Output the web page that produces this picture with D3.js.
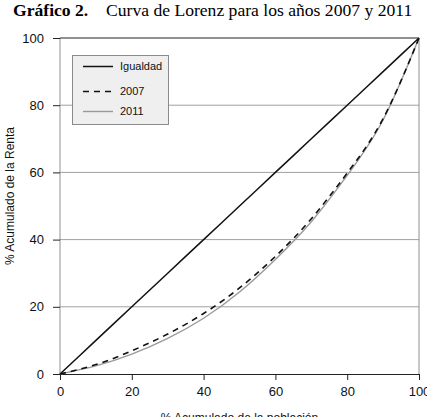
<!DOCTYPE html>
<html>
<head>
<meta charset="utf-8">
<script src="https://cdn.jsdelivr.net/npm/d3@7"></script>
<style>
  body { margin: 0; background: #fff; }
  svg { display: block; }
</style>
</head>
<body>
<div id="chart"></div>
<script>
// datos (deciles de poblacion, % acumulado de renta)
const poblacion = [0, 10, 20, 30, 40, 50, 60, 70, 80, 90, 100];
const igualdad = [0, 10, 20, 30, 40, 50, 60, 70, 80, 90, 100];
const renta2007 = [0, 2.8, 6.9, 11.9, 18.0, 25.6, 35.0, 46.2, 59.8, 76.0, 100];
const renta2011 = [0, 2.4, 5.9, 10.6, 16.6, 24.4, 34.1, 45.3, 59.1, 75.6, 100];
const ticks = [0, 20, 40, 60, 80, 100];
const gridTicks = [20, 40, 60, 80];
const leyenda = ["Igualdad", "2007", "2011"];

const WIDTH = 427, HEIGHT = 417;
const MARGIN = { LEFT: 60, RIGHT: 8, TOP: 38, BOTTOM: 43 };

const svg = d3.select("#chart").append("svg")
    .attr("width", WIDTH)
    .attr("height", HEIGHT);

const x = d3.scaleLinear().domain([0, 100]).range([MARGIN.LEFT, WIDTH - MARGIN.RIGHT]);
const y = d3.scaleLinear().domain([0, 100]).range([HEIGHT - MARGIN.BOTTOM, MARGIN.TOP]);

// titulo
const title = svg.append("text")
    .attr("y", 16)
    .attr("font-family", "'Liberation Serif', 'Times New Roman', serif")
    .attr("font-size", 17.6)
    .attr("fill", "#000");
title.append("tspan").attr("x", 13).attr("font-weight", "bold").text("Gráfico 2.");
title.append("tspan").attr("x", 106).text("Curva de Lorenz para los años 2007 y 2011");

// rejilla
svg.selectAll(".grid")
    .data(gridTicks)
    .enter().append("line")
    .attr("x1", x(0)).attr("x2", x(100))
    .attr("y1", d => y(d)).attr("y2", d => y(d))
    .attr("stroke", "#a0a0a0")
    .attr("stroke-width", 1);

// bordes
svg.append("line")
    .attr("x1", x(0)).attr("x2", x(0))
    .attr("y1", y(0)).attr("y2", y(100))
    .attr("stroke", "#909090").attr("stroke-width", 1);
svg.append("line")
    .attr("x1", x(100)).attr("x2", x(100))
    .attr("y1", y(0)).attr("y2", y(100))
    .attr("stroke", "#909090").attr("stroke-width", 1);
svg.append("line")
    .attr("x1", x(0)).attr("x2", x(100))
    .attr("y1", y(100)).attr("y2", y(100))
    .attr("stroke", "#222").attr("stroke-width", 1);

// ejes
const fontAxis = "'Liberation Sans', Arial, Helvetica, sans-serif";
const gx = svg.append("g")
    .attr("transform", `translate(0, ${y(0)})`)
    .call(d3.axisBottom(x).tickValues(ticks).tickSize(6).tickPadding(7).tickSizeOuter(0));
const gy = svg.append("g")
    .attr("transform", `translate(${x(0)}, 0)`)
    .call(d3.axisLeft(y).tickValues(ticks).tickSize(7).tickPadding(9).tickSizeOuter(0));
gy.select(".domain").remove();
[gx, gy].forEach(g => {
    g.selectAll("text")
        .attr("font-family", fontAxis)
        .attr("font-size", 13)
        .attr("fill", "#111");
    g.selectAll(".tick line").attr("stroke", "#222");
});
gx.select(".domain").attr("stroke", "#222");

// titulos de ejes
svg.append("text")
    .attr("transform", `translate(14, 196) rotate(-90)`)
    .attr("text-anchor", "middle")
    .attr("font-family", fontAxis)
    .attr("font-size", 12)
    .attr("fill", "#111")
    .text("% Acumulado de la Renta");
svg.append("text")
    .attr("x", (x(0) + x(100)) / 2)
    .attr("y", 422)
    .attr("text-anchor", "middle")
    .attr("font-family", fontAxis)
    .attr("font-size", 12)
    .attr("fill", "#111")
    .text("% Acumulado de la población");

// curvas
const line = (vals) => d3.line()
    .x((d, i) => x(poblacion[i]))
    .y(d => y(d))
    .curve(d3.curveNatural)(vals);

svg.append("path")
    .attr("d", line(renta2011))
    .attr("fill", "none")
    .attr("stroke", "#9a9a9a")
    .attr("stroke-width", 1.4);
svg.append("path")
    .attr("d", line(renta2007))
    .attr("fill", "none")
    .attr("stroke", "#111")
    .attr("stroke-width", 1.6)
    .attr("stroke-dasharray", "6,5");
svg.append("path")
    .attr("d", line(igualdad))
    .attr("fill", "none")
    .attr("stroke", "#111")
    .attr("stroke-width", 1.5);

// leyenda
const legend = svg.append("g");
legend.append("rect")
    .attr("x", 72.5).attr("y", 55.5)
    .attr("width", 96).attr("height", 69)
    .attr("fill", "#efefef")
    .attr("stroke", "#8a8a8a")
    .attr("stroke-width", 1);
const estilos = [
    { color: "#111", width: 1.5, dash: null },
    { color: "#111", width: 1.6, dash: "6,5" },
    { color: "#9a9a9a", width: 1.4, dash: null }
];
const filaY = [66.5, 91.5, 111.5];
leyenda.forEach((nombre, i) => {
    legend.append("line")
        .attr("x1", 83).attr("x2", 113)
        .attr("y1", filaY[i]).attr("y2", filaY[i])
        .attr("stroke", estilos[i].color)
        .attr("stroke-width", estilos[i].width)
        .attr("stroke-dasharray", estilos[i].dash);
    legend.append("text")
        .attr("x", 120).attr("y", filaY[i])
        .attr("dy", "0.35em")
        .attr("font-family", fontAxis)
        .attr("font-size", 11)
        .attr("fill", "#111")
        .text(nombre);
});
</script>
</body>
</html>
